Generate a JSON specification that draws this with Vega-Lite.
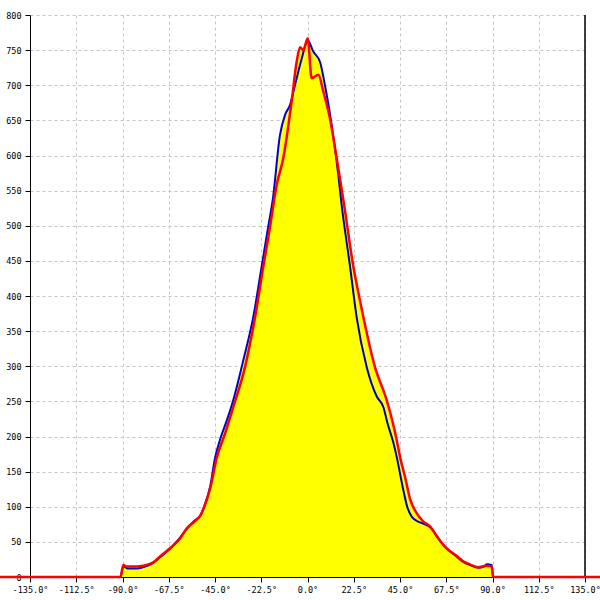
{
  "$schema": "https://vega.github.io/schema/vega-lite/v6.json",
  "autosize": "none",
  "width": 555,
  "height": 562,
  "padding": {"left": 30, "top": 15, "right": 15, "bottom": 23},
  "background": "white",
  "config": {
    "view": {"stroke": null},
    "axis": {"labelFont": "DejaVu Sans Mono", "labelFontSize": 8.5, "labelColor": "#000000", "domainColor": "#000000", "tickColor": "#000000", "gridColor": "#c4c4c4", "gridDash": [3, 3], "gridWidth": 1, "titleFontSize": 0}
  },
  "data": {"values": [
    {"a": -150, "v": 0, "s": "red"},
    {"a": -135, "v": 0, "s": "red"},
    {"a": -91, "v": 0, "s": "red"},
    {"a": -89.6, "v": 17, "s": "red"},
    {"a": -88, "v": 15, "s": "red"},
    {"a": -83, "v": 15, "s": "red"},
    {"a": -80, "v": 16, "s": "red"},
    {"a": -75, "v": 21, "s": "red"},
    {"a": -71.8, "v": 29, "s": "red"},
    {"a": -66.9, "v": 41, "s": "red"},
    {"a": -62, "v": 55, "s": "red"},
    {"a": -58.8, "v": 69, "s": "red"},
    {"a": -55, "v": 79, "s": "red"},
    {"a": -52, "v": 88, "s": "red"},
    {"a": -50.2, "v": 100, "s": "red"},
    {"a": -47.2, "v": 128, "s": "red"},
    {"a": -44.2, "v": 169, "s": "red"},
    {"a": -40, "v": 205, "s": "red"},
    {"a": -36.1, "v": 242, "s": "red"},
    {"a": -30.4, "v": 299, "s": "red"},
    {"a": -25.5, "v": 370, "s": "red"},
    {"a": -21.5, "v": 442, "s": "red"},
    {"a": -18.2, "v": 499, "s": "red"},
    {"a": -15, "v": 558, "s": "red"},
    {"a": -11.8, "v": 596, "s": "red"},
    {"a": -7.7, "v": 677, "s": "red"},
    {"a": -5.3, "v": 733, "s": "red"},
    {"a": -3.6, "v": 754, "s": "red"},
    {"a": -2.0, "v": 750, "s": "red"},
    {"a": 0.1, "v": 767, "s": "red"},
    {"a": 2.0, "v": 710, "s": "red"},
    {"a": 5.3, "v": 715, "s": "red"},
    {"a": 7.7, "v": 691, "s": "red"},
    {"a": 10.9, "v": 653, "s": "red"},
    {"a": 14.2, "v": 596, "s": "red"},
    {"a": 17.8, "v": 530, "s": "red"},
    {"a": 22.3, "v": 442, "s": "red"},
    {"a": 25.5, "v": 394, "s": "red"},
    {"a": 32.8, "v": 299, "s": "red"},
    {"a": 38.5, "v": 252, "s": "red"},
    {"a": 43.4, "v": 195, "s": "red"},
    {"a": 45, "v": 171, "s": "red"},
    {"a": 47.4, "v": 143, "s": "red"},
    {"a": 50, "v": 110, "s": "red"},
    {"a": 53.1, "v": 91, "s": "red"},
    {"a": 56, "v": 80, "s": "red"},
    {"a": 59.6, "v": 72, "s": "red"},
    {"a": 63, "v": 58, "s": "red"},
    {"a": 66.9, "v": 43, "s": "red"},
    {"a": 72.6, "v": 30, "s": "red"},
    {"a": 76, "v": 22, "s": "red"},
    {"a": 79, "v": 18, "s": "red"},
    {"a": 83, "v": 14, "s": "red"},
    {"a": 87, "v": 16, "s": "red"},
    {"a": 89.6, "v": 15, "s": "red"},
    {"a": 90.3, "v": 0, "s": "red"},
    {"a": 135, "v": 0, "s": "red"},
    {"a": 150, "v": 0, "s": "red"},
    {"a": -135, "v": 0, "s": "blue"},
    {"a": -91, "v": 0, "s": "blue"},
    {"a": -89.6, "v": 15, "s": "blue"},
    {"a": -87, "v": 12, "s": "blue"},
    {"a": -83, "v": 12, "s": "blue"},
    {"a": -79.9, "v": 14, "s": "blue"},
    {"a": -75, "v": 20, "s": "blue"},
    {"a": -71.8, "v": 28, "s": "blue"},
    {"a": -66.9, "v": 40, "s": "blue"},
    {"a": -62, "v": 56, "s": "blue"},
    {"a": -58.8, "v": 68, "s": "blue"},
    {"a": -55, "v": 80, "s": "blue"},
    {"a": -52, "v": 88, "s": "blue"},
    {"a": -50.7, "v": 97, "s": "blue"},
    {"a": -47.4, "v": 128, "s": "blue"},
    {"a": -45, "v": 169, "s": "blue"},
    {"a": -42.6, "v": 195, "s": "blue"},
    {"a": -39, "v": 225, "s": "blue"},
    {"a": -36.1, "v": 252, "s": "blue"},
    {"a": -31.2, "v": 309, "s": "blue"},
    {"a": -26.4, "v": 370, "s": "blue"},
    {"a": -22.3, "v": 442, "s": "blue"},
    {"a": -19.1, "v": 499, "s": "blue"},
    {"a": -16.9, "v": 537, "s": "blue"},
    {"a": -13.4, "v": 629, "s": "blue"},
    {"a": -10.9, "v": 658, "s": "blue"},
    {"a": -8.5, "v": 672, "s": "blue"},
    {"a": -6.1, "v": 700, "s": "blue"},
    {"a": -2.8, "v": 738, "s": "blue"},
    {"a": 0.1, "v": 764, "s": "blue"},
    {"a": 2.8, "v": 748, "s": "blue"},
    {"a": 6.1, "v": 733, "s": "blue"},
    {"a": 8.5, "v": 700, "s": "blue"},
    {"a": 11.8, "v": 643, "s": "blue"},
    {"a": 15, "v": 572, "s": "blue"},
    {"a": 16.6, "v": 530, "s": "blue"},
    {"a": 20.7, "v": 442, "s": "blue"},
    {"a": 23.9, "v": 370, "s": "blue"},
    {"a": 28.8, "v": 299, "s": "blue"},
    {"a": 33.7, "v": 257, "s": "blue"},
    {"a": 36.9, "v": 242, "s": "blue"},
    {"a": 39, "v": 218, "s": "blue"},
    {"a": 41.7, "v": 192, "s": "blue"},
    {"a": 43.4, "v": 171, "s": "blue"},
    {"a": 46.6, "v": 124, "s": "blue"},
    {"a": 48.5, "v": 100, "s": "blue"},
    {"a": 50.7, "v": 86, "s": "blue"},
    {"a": 53, "v": 80, "s": "blue"},
    {"a": 56.3, "v": 76, "s": "blue"},
    {"a": 60.4, "v": 69, "s": "blue"},
    {"a": 63, "v": 57, "s": "blue"},
    {"a": 66.9, "v": 43, "s": "blue"},
    {"a": 72.6, "v": 29, "s": "blue"},
    {"a": 76, "v": 21, "s": "blue"},
    {"a": 79, "v": 17, "s": "blue"},
    {"a": 83.1, "v": 13, "s": "blue"},
    {"a": 86, "v": 15, "s": "blue"},
    {"a": 87.2, "v": 18, "s": "blue"},
    {"a": 89.6, "v": 17, "s": "blue"},
    {"a": 90.3, "v": 0, "s": "blue"},
    {"a": 135, "v": 0, "s": "blue"}
  ]},
  "encoding": {
    "x": {"field": "a", "type": "quantitative", "scale": {"domain": [-135, 135], "nice": false, "zero": false},
      "axis": {"title": null, "values": [-135, -112.5, -90, -67.5, -45, -22.5, 0, 22.5, 45, 67.5, 90, 112.5, 135], "labelExpr": "replace(format(datum.value, '.1f'), '\u2212', '-') + '\u00b0'", "tickSize": 5, "labelPadding": 3, "labelFlush": false, "labelOverlap": false}},
    "y": {"field": "v", "type": "quantitative", "stack": null, "scale": {"domain": [0, 800], "nice": false},
      "axis": {"title": null, "values": [0, 50, 100, 150, 200, 250, 300, 350, 400, 450, 500, 550, 600, 650, 700, 750, 800], "tickSize": 5, "labelPadding": 4, "labelFlush": false, "labelOverlap": false}}
  },
  "layer": [
    {"transform": [{"filter": "datum.s === 'blue'"}], "mark": {"type": "area", "color": "#ffff00", "clip": true, "interpolate": "monotone"}},
    {"transform": [{"filter": "datum.s === 'red'"}], "mark": {"type": "area", "color": "#ffff00", "clip": true, "interpolate": "monotone"}},
    {"mark": {"type": "rule", "color": "#000000", "strokeWidth": 1.5},
      "data": {"values": [{"a": 135, "lo": 0, "hi": 800}]},
      "encoding": {"x": {"field": "a", "type": "quantitative"}, "y": {"field": "lo", "type": "quantitative"}, "y2": {"field": "hi"}}},
    {"transform": [{"filter": "datum.s === 'blue'"}], "mark": {"type": "line", "color": "#0000d0", "strokeWidth": 2, "clip": true, "interpolate": "monotone"}},
    {"transform": [{"filter": "datum.s === 'red'"}], "mark": {"type": "line", "color": "#ff0000", "strokeWidth": 2.5, "clip": false, "interpolate": "monotone"}}
  ]
}
